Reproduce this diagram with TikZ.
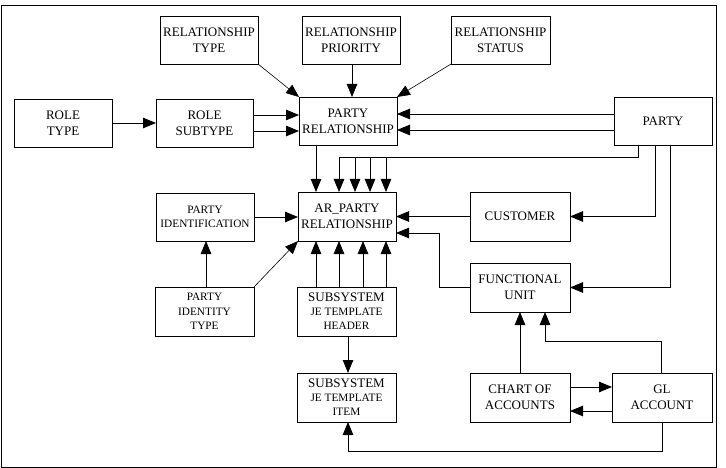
\documentclass[tikz,border=0pt]{standalone}
\usepackage{fontspec}
\setmainfont{Liberation Serif}
\usetikzlibrary{arrows.meta}
\newcommand{\bigf}{\fontsize{13pt}{16pt}\selectfont}
\newcommand{\smallf}{\fontsize{11.3pt}{14.5pt}\selectfont}
\begin{document}
\begin{tikzpicture}[x=1pt,y=-1pt,
  box/.style={draw,line width=0.9pt,inner sep=0pt,outer sep=0pt,align=center,
    minimum width=98pt,minimum height=48pt,font=\bigf},
  arr/.style={draw,line width=0.9pt,-{Triangle[length=13pt,width=10.5pt]}},
  ln/.style={draw,line width=0.9pt},
  thin/.style={line width=0.6pt}]
\useasboundingbox (0,0) rectangle (726,468);
\draw[line width=0.9pt] (1,5) rectangle (716,467);

\node[box] (rtype) at (209,40) {RELATIONSHIP\\TYPE};
\node[box] (rprio) at (351,40) {RELATIONSHIP\\PRIORITY};
\node[box,minimum width=99pt] (rstat) at (500.5,40) {RELATIONSHIP\\STATUS};
\node[box] (roletype) at (63,123) {ROLE\\TYPE};
\node[box,minimum width=97pt] (rolesub) at (204.5,123) {ROLE\\SUBTYPE};
\node[box] (pr) at (348,121) {PARTY\\RELATIONSHIP};
\node[box] (party) at (663,121) {PARTY};
\node[box,font=\smallf] (pid) at (205,217) {PARTY\\IDENTIFICATION};
\node[box,minimum height=49pt] (ar) at (347,216.5) {AR\_PARTY\\RELATIONSHIP};
\node[box,minimum width=100pt,minimum height=49pt] (cust) at (520,216.5) {CUSTOMER};
\node[box,minimum width=99pt,minimum height=49pt,font=\smallf] (pit) at (204.5,311.5) {PARTY\\IDENTITY\\TYPE};
\node[box,minimum width=99pt,minimum height=49pt] (sjth) at (346.5,311.5) {SUBSYSTEM\\[-2pt]{\smallf JE TEMPLATE}\\[-2pt]{\smallf HEADER}};
\node[box,minimum width=99pt,minimum height=49pt] (sjti) at (346.5,397.5) {SUBSYSTEM\\[-2pt]{\smallf JE TEMPLATE}\\[-2pt]{\smallf ITEM}};
\node[box,minimum width=100pt,minimum height=49pt] (fu) at (520,287.5) {FUNCTIONAL\\UNIT};
\node[box,minimum width=100pt,minimum height=49pt] (coa) at (520,397.5) {CHART OF\\ACCOUNTS};
\node[box,minimum width=100pt,minimum height=49pt] (gl) at (662,397.5) {GL\\ACCOUNT};

% top feeders
\draw[arr,thin] (rtype.south east) -- (pr.north west);
\draw[arr] (rprio.south -| 352,0) -- (pr.north -| 352,0);
\draw[arr,thin] (rstat.south west) -- (pr.north east);

% role
\draw[arr] (roletype) -- (rolesub);
\draw[arr] (rolesub.east |- 0,115) -- (pr.west |- 0,115);
\draw[arr] (rolesub.east |- 0,131) -- (pr.west |- 0,131);

% party to PR
\draw[arr] (party.west |- 0,114) -- (pr.east |- 0,114);
\draw[arr] (party.west |- 0,130) -- (pr.east |- 0,130);

% PR to AR
\draw[arr] (pr.south -| 316,0) -- (ar.north -| 316,0);

% party to AR (split)
\coordinate (pj) at (339,157);
\draw[ln] (party.south -| 638,0) |- (pj);
\draw[arr] (pj) -- (ar.north -| 339,0);
\draw[arr] (pj -| 355,0) -- (ar.north -| 355,0);
\draw[arr] (pj -| 370,0) -- (ar.north -| 370,0);
\draw[arr] (pj -| 386,0) -- (ar.north -| 386,0);

% party to customer and functional unit
\draw[arr] (party.south -| 655,0) |- (cust.east);
\draw[arr] (party.south -| 670,0) |- (fu.east);

% customer, FU to AR
\draw[arr] (cust.west) -- (ar.east |- cust.west);
\coordinate (fj) at (439,233);
\draw[arr] (fu.west) -| (fj) -- (ar.east |- fj);

% party identification
\draw[arr] (pid.east) -- (ar.west |- pid.east);
\draw[arr] (pit.north -| 206,0) -- (pid.south -| 206,0);
\draw[arr,thin] (pit.north east) -- (ar.south west);

% SJTH to AR
\foreach \xx in {316,339,363,386}
  \draw[arr] (sjth.north -| \xx,0) -- (ar.south -| \xx,0);

% SJTH to SJTI
\draw[arr] (sjth.south -| 348,0) -- (sjti.north -| 348,0);

% GL to SJTI
\coordinate (gj) at (348,451);
\draw[arr] (gl.south) |- (gj) -- (sjti.south -| gj);

% COA, GL to FU
\draw[arr] (coa.north) -- (fu.south);
\coordinate (fk) at (545,341);
\draw[arr] (gl.north -| 661,0) |- (fk) -- (fu.south -| fk);

% COA <-> GL
\draw[arr] (coa.east |- 0,387) -- (gl.west |- 0,387);
\draw[arr] (gl.west |- 0,411) -- (coa.east |- 0,411);
\end{tikzpicture}
\end{document}
